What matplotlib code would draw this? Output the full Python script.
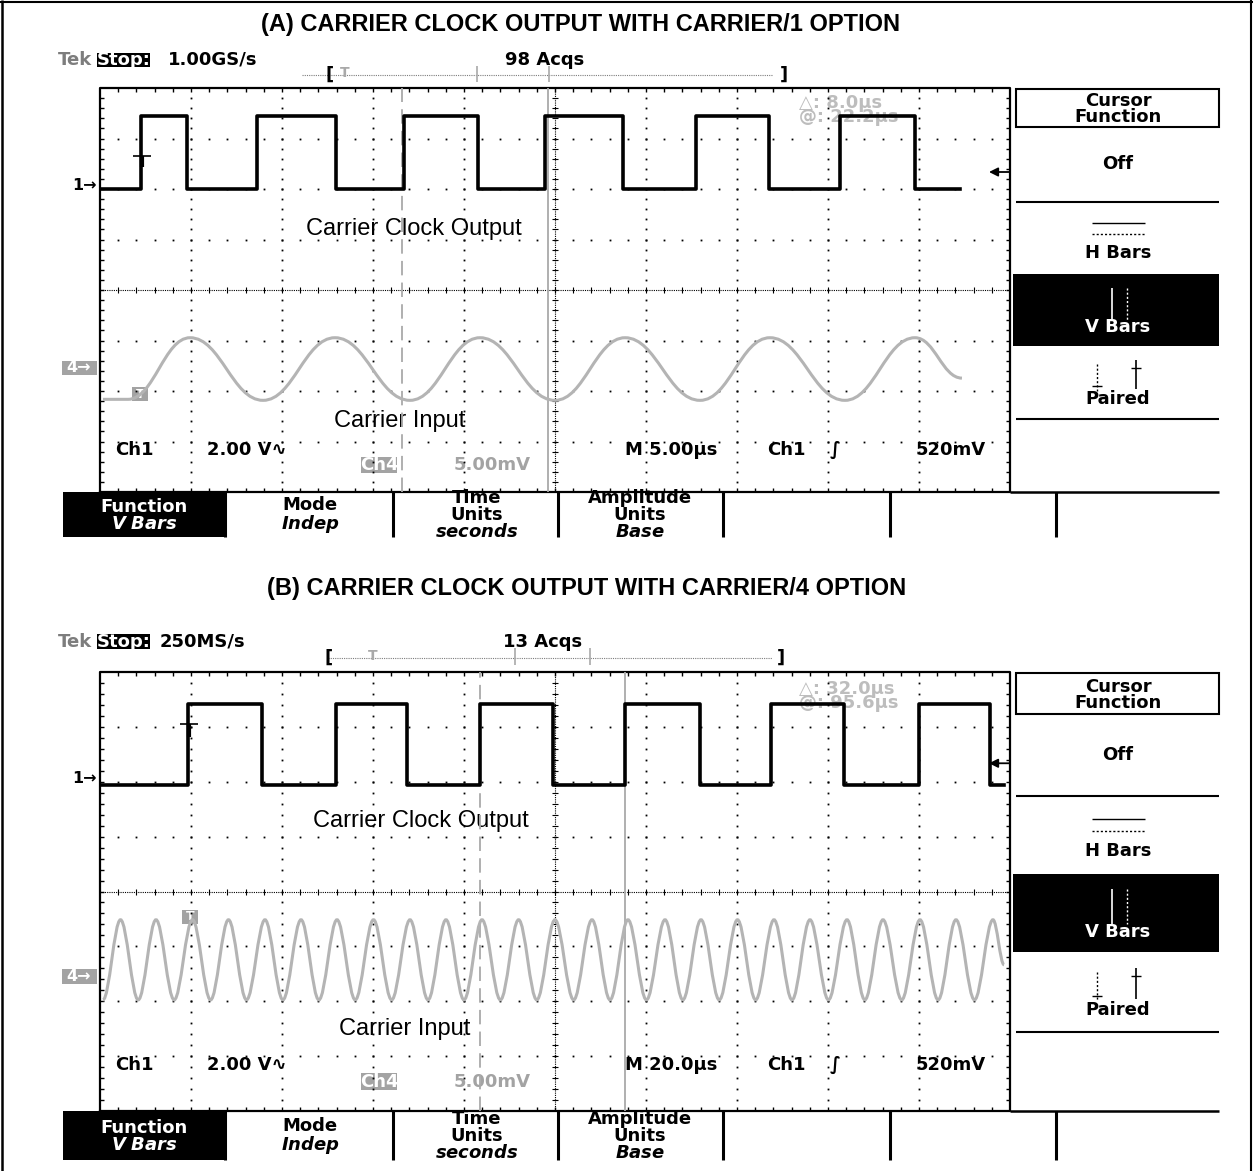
import numpy as np
import matplotlib
matplotlib.use("Agg")
import matplotlib.pyplot as plt
from matplotlib.patches import Rectangle, PathPatch
from matplotlib.path import Path

plt.rcParams["mathtext.fontset"] = "dejavusans"

# ---------------- data ----------------
titles = ["(A) CARRIER CLOCK OUTPUT WITH CARRIER/1 OPTION",
          "(B) CARRIER CLOCK OUTPUT WITH CARRIER/4 OPTION"]
sample_rates = ["1.00GS/s", "250MS/s"]
acquisitions = ["98 Acqs", "13 Acqs"]
timebase_us = [5.0, 20.0]                 # µs / division
timebase_labels = ["M 5.00µs", "M 20.0µs"]
ch1_scale_label = "2.00 V\u223f"
ch4_scale_labels = ["5.00mV", "5.00mV"]
trigger_labels = ["520mV", "520mV"]
cursor_delta = ["\u25b3: 8.0µs", "\u25b3: 32.0µs"]
cursor_at = ["@: 22.2µs", "@: 95.6µs"]
cursor1_us = [16.6, 83.5]                 # dashed cursor
cursor2_us = [24.6, 115.4]                # solid cursor
trace_labels = ["Carrier Clock Output", "Carrier Input"]

# Ch1 (2.00 V/div): edge times (µs), trace end, high level (V)
a_ch1_edges = [2.25, 4.78, 8.63, 12.97, 16.70, 20.77, 24.45, 28.74,
               32.75, 36.76, 40.66, 44.78]
a_ch1_end = 47.25
b_ch1_edges = [19.45, 35.60, 51.78, 67.47, 83.52, 99.56, 115.38, 131.87,
               147.47, 163.52, 180.0, 195.6]
b_ch1_end = 198.7
ch1_high_v = [2.9, 2.95]
ch1_ref_div = [2.0, 1.94]

# Ch4 (5.00 mV/div): extrema times (µs) and values (mV)
a_ch4_t = [0.16, 1.54, 4.95, 8.96, 12.91, 17.03, 20.88, 25.0, 28.85,
           32.97, 36.81, 40.93, 44.78, 47.36]
a_ch4_mv = [-3.1, -3.1, 3.0, -3.2, 3.0, -3.2, 3.0, -3.2, 3.0,
            -3.2, 3.0, -3.2, 3.0, -1.0]
b_ch4_t = [0.66, 4.51, 8.4, 12.31, 16.3, 20.33, 24.3, 28.24, 32.2, 36.26,
           40.2, 44.18, 48.1, 52.09, 56.1, 60.11, 64.1, 68.13, 72.1, 76.04,
           80.0, 83.96, 88.0, 92.0, 96.0, 100.0, 104.1, 108.13, 112.1, 116.04,
           120.1, 124.18, 128.1, 132.09, 136.1, 140.11, 144.1, 148.13, 152.1,
           156.04, 160.1, 164.18, 168.1, 172.09, 176.2, 180.22, 184.2, 188.13,
           192.2, 196.26, 198.7]
b_ch4_mv = [-2.1, 5.2] * 25 + [1.1]
ch4_ref_div = [-1.545, -1.555]

# ---------------- figure ----------------
W, H = 1253, 1171
fig = plt.figure(figsize=(W / 100, H / 100), dpi=100)
ov = fig.add_axes([0, 0, 1, 1], zorder=0)
ov.set_xlim(0, W)
ov.set_ylim(H, 0)
ov.axis("off")

SC = dict(family="DejaVu Sans", fontweight="bold", fontsize=13)
GRAY = "#a9a9a9"
TGRAY = "#7d7d7d"
BOXGRAY = "#a3a3a3"


def txt(x, y, s, ha="center", color="black", **kw):
    d = dict(SC)
    d.update(kw)
    ov.text(x, y, s, ha=ha, va="center", color=color, **d)


def hline(x0, x1, y, **kw):
    ov.plot([x0, x1], [y, y], solid_capstyle="butt", **kw)


def vline(x, y0, y1, **kw):
    ov.plot([x, x], [y0, y1], solid_capstyle="butt", **kw)


def it(s):
    return "$\\mathbfit{" + s.replace(" ", "\\ ") + "}$"


# outer frame
hline(0, W, 1.5, color="k", lw=1.5)
vline(1.5, 0, H, color="k", lw=1.8)
vline(W - 2, 0, H, color="k", lw=1.5)

panel_top = [88, 672]
panel_bot = [492, 1111]
title_y = [24, 588]
title_x = [581, 587]
rate_x = [213, 202]
acq_x = [545, 543]
rec_bar = [dict(x0=302, x1=772, lb=330, rb=784, T=345, marks=[477, 549]),
           dict(x0=328, x1=772, lb=329, rb=781, T=373, marks=[515, 590])]
ch1_T = [(142, 156, 167), (188.5, 724, 737)]
ch4_T = [(140, 394), (190, 917)]
lab_pos = [((414, 229), (400, 421)), ((421, 821), (405, 1029))]
readout_x = [799, 799]

GL, GR = 100, 1010

for p in range(2):
    top, bot = panel_top[p], panel_bot[p]
    s = (bot - top) / 404.0

    def Y(a, top=top, s=s):
        return top + (a - 88) * s

    tb = timebase_us[p]
    X = 10 * tb

    # title
    ov.text(title_x[p], title_y[p], titles[p], ha="center", va="center",
            family="Liberation Sans", fontweight="bold", fontsize=17)

    # header line
    txt(75, Y(60), "Tek", color=TGRAY)
    ov.add_patch(Rectangle((97, Y(53)), 53, Y(67) - Y(53), color="k", lw=0))
    txt(123.5, Y(60), "Stop:", color="white")
    txt(rate_x[p], Y(60), sample_rates[p])
    txt(acq_x[p], Y(60), acquisitions[p])

    # record view bar
    rb = rec_bar[p]
    yb = Y(75)
    hline(rb["x0"], rb["x1"], yb, color=TGRAY, lw=0.8, ls=(0, (1, 1)))
    txt(rb["lb"], yb, "[")
    txt(rb["rb"], yb, "]")
    txt(rb["T"], yb - 2, "T", color=GRAY, fontsize=10)
    for m in rb["marks"]:
        vline(m, Y(66), Y(82), color=GRAY, lw=1.2)

    # graticule axes
    ax = fig.add_axes([GL / W, 1 - bot / H, (GR - GL) / W, (bot - top) / H], zorder=1)
    ax.patch.set_visible(False)
    ax.set_xlim(0, X)
    ax.set_ylim(-4, 4)
    ax.axis("off")

    ax.plot([0, X, X, 0, 0], [-4, -4, 4, 4, -4], color="k", lw=1.6, clip_on=False)
    mx = np.arange(1, 50) * 0.2 * tb
    my = np.arange(-19, 20) * 0.2
    dot = dict(ls="none", marker="s", ms=1.3, color="k", mec="none")
    for i in range(1, 10):
        if i != 5:
            ax.plot(np.full(my.size, i * tb), my, **dot)
    for j in range(-3, 4):
        if j != 0:
            ax.plot(mx, np.full(mx.size, j), **dot)
    ax.plot([0, X], [0, 0], color="k", lw=0.8, ls=(0, (1, 1)))
    ax.plot([5 * tb] * 2, [-4, 4], color="k", lw=0.8, ls=(0, (1, 1)))
    ax.plot(mx, np.zeros(mx.size), ls="none", marker="|", ms=4.5, mew=0.8, color="k")
    ax.plot(np.full(my.size, 5 * tb), my, ls="none", marker="_", ms=4.5, mew=0.8, color="k")
    tk = dict(ls="none", ms=3.2, mew=1.0, color="k", clip_on=False)
    ax.plot(mx, np.full(mx.size, 4), marker=3, **tk)
    ax.plot(mx, np.full(mx.size, -4), marker=2, **tk)
    ax.plot(np.zeros(my.size), my, marker=1, **tk)
    ax.plot(np.full(my.size, X), my, marker=0, **tk)

    # cursors
    ax.plot([cursor1_us[p]] * 2, [-4, 4], color=GRAY, lw=1.3, ls=(0, (8, 4)))
    ax.plot([cursor2_us[p]] * 2, [-4, 4], color=GRAY, lw=1.3)

    # cursor readout (drawn under the waveforms)
    ax.text((readout_x[p] - GL) / (GR - GL) * X, 4 - (Y(110) - top) / (bot - top) * 8,
            cursor_delta[p] + "\n" + cursor_at[p], color="#bdbdbd", ha="left",
            va="center", linespacing=0.76, zorder=1, **SC)

    # Ch1 square wave
    edges = a_ch1_edges if p == 0 else b_ch1_edges
    tend = a_ch1_end if p == 0 else b_ch1_end
    t = [0.0]
    v = [0.0]
    lev = 0.0
    for e in edges:
        lev = ch1_high_v[p] if lev == 0.0 else 0.0
        t.append(e)
        v.append(lev)
    t.append(tend)
    v.append(lev)
    ax.plot(t, [ch1_ref_div[p] + vv / 2.0 for vv in v], color="k", lw=2.6,
            drawstyle="steps-post", zorder=5)

    # Ch4 carrier (smooth curve through the read extrema)
    ct = a_ch4_t if p == 0 else b_ch4_t
    cv = a_ch4_mv if p == 0 else b_ch4_mv
    cy = [ch4_ref_div[p] + m / 5.0 for m in cv]
    k = 0.42 if p == 0 else 0.36
    verts = [(ct[0], cy[0])]
    codes = [Path.MOVETO]
    for i in range(1, len(ct)):
        dx = ct[i] - ct[i - 1]
        verts += [(ct[i - 1] + k * dx, cy[i - 1]), (ct[i] - k * dx, cy[i]), (ct[i], cy[i])]
        codes += [Path.CURVE4] * 3
    ax.add_patch(PathPatch(Path(verts, codes), fill=False, edgecolor="#b4b4b4",
                           lw=2.2, zorder=4))

    # trigger markers
    tx, ty0, ty1 = ch1_T[p]
    hline(tx - 9, tx + 9, ty0, color="k", lw=1.2)
    vline(tx, ty0, ty1, color="k", lw=3)
    cx, cyy = ch4_T[p]
    ov.add_patch(Rectangle((cx - 8, cyy - 7), 16, 14, color=BOXGRAY, lw=0))
    txt(cx, cyy, "T", color="white", fontsize=9)

    # channel reference markers
    txt(97, Y(186), "1\u2192", ha="right", fontsize=11.5)
    ov.add_patch(Rectangle((62, Y(361)), 35, Y(375) - Y(361), color=BOXGRAY, lw=0))
    txt(79, Y(368), "4\u2192", color="white", fontsize=11.5)
    ov.annotate("", xy=(989, Y(172)), xytext=(1010, Y(172)),
                arrowprops=dict(arrowstyle="-|>", color="k", lw=1.3, mutation_scale=13,
                                shrinkA=0, shrinkB=0))

    # trace labels
    for (lx, ly), lab in zip(lab_pos[p], trace_labels):
        ov.text(lx, ly, lab, ha="center", va="center", family="Liberation Sans",
                fontsize=17, color="black")

    # status row
    txt(134, Y(450), "Ch1")
    txt(247, Y(450), ch1_scale_label)
    txt(671, Y(450), timebase_labels[p])
    txt(786, Y(450), "Ch1")
    txt(835, Y(450), "\u222b")
    txt(951, Y(450), trigger_labels[p])
    ov.add_patch(Rectangle((361, Y(457)), 36, Y(473) - Y(457), color=BOXGRAY, lw=0))
    txt(379, Y(465), "Ch4", color="white")
    txt(492, Y(465), ch4_scale_labels[p], color=BOXGRAY)

    # right-hand menu
    mc = 1118
    ov.add_patch(Rectangle((1016, Y(89)), 203, Y(127) - Y(89), fill=False, ec="k", lw=1.5))
    txt(mc, Y(109), "Cursor\nFunction", linespacing=0.88)
    txt(mc, Y(164), "Off")
    hline(1016, 1219, Y(202), color="k", lw=1.5)
    hline(1092, 1145, Y(223), color="k", lw=1.0)
    hline(1092, 1145, Y(234), color="k", lw=1.0, ls=(0, (1.5, 1.5)))
    txt(mc, Y(253), "H Bars")
    ov.add_patch(Rectangle((1013, Y(274)), 206, Y(346) - Y(274), color="k", lw=0))
    vline(1112, Y(288), Y(320), color="white", lw=1.2)
    vline(1127, Y(288), Y(320), color="white", lw=1.0, ls=(0, (1.5, 1.5)))
    txt(mc, Y(327), "V Bars", color="white")
    vline(1097, Y(364), Y(391), color="k", lw=1.0, ls=(0, (1.5, 1.5)))
    hline(1092, 1102, Y(386), color="k", lw=1.0)
    vline(1136, Y(360), Y(389), color="k", lw=1.2)
    hline(1131, 1141, Y(368), color="k", lw=1.0)
    txt(mc, Y(399), "Paired")
    hline(1016, 1219, Y(419), color="k", lw=1.5)

    # bottom soft-key row
    rb_top, rb_bot = bot, bot + 45 * s
    hline(GR, 1219, rb_top, color="k", lw=1.8)
    ov.add_patch(Rectangle((63, rb_top), 162, rb_bot - rb_top, color="k", lw=0))
    for sx in [225, 393, 558, 723, 890, 1056]:
        vline(sx, rb_top, rb_bot, color="k", lw=2.2)
    ym = (rb_top + rb_bot) / 2
    ls2 = 0.9
    txt(144, ym + 1, "Function\n" + it("V Bars"), color="white", linespacing=ls2)
    txt(310, ym + 1, "Mode\n" + it("Indep"), linespacing=ls2)
    txt(477, ym + 0.5, "Time\nUnits\n" + it("seconds"), linespacing=ls2)
    txt(640, ym + 0.5, "Amplitude\nUnits\n" + it("Base"), linespacing=ls2)

fig.savefig("out.png", dpi=100)
